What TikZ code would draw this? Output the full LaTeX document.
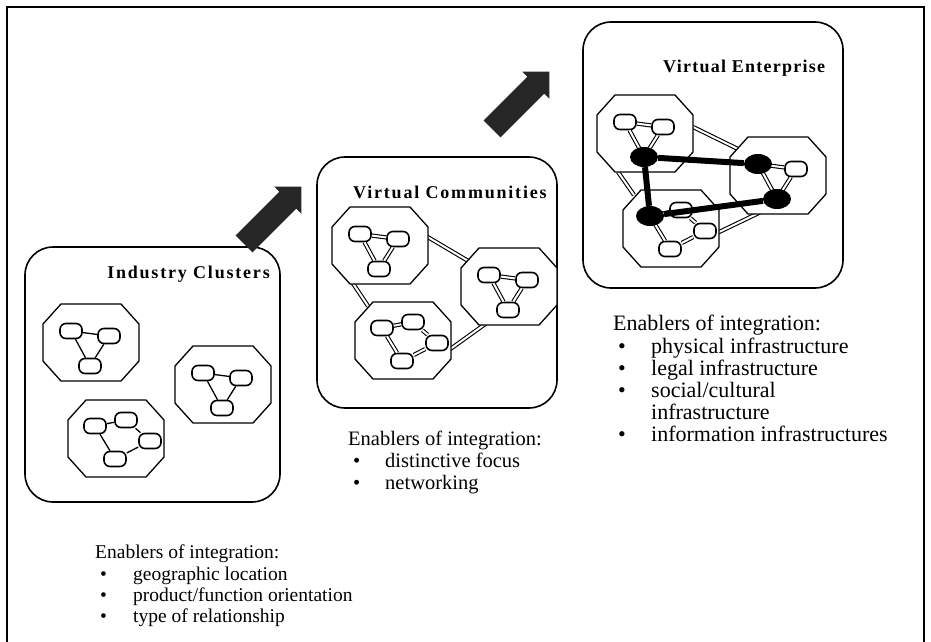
\documentclass[tikz,border=0pt]{standalone}
\usepackage{fontspec}
\setmainfont{Liberation Serif}
\usetikzlibrary{shapes.geometric}
\newcommand{\octshape}{\draw[octo] (18,0) -- (78,0) -- (96,20) -- (96,57) -- (78,77) -- (18,77) -- (0,57) -- (0,20) -- cycle;}
\newcommand{\tricluster}[1]{%
  \octshape
  \node[cn] (n1) at (28,27) {};
  \node[cn] (n2) at (66,32) {};
  \node[cn] (n3) at (47,62) {};
  \draw[#1] (n1) -- (n2) (n1) -- (n3) (n2) -- (n3);}
\newcommand{\quadcluster}[1]{%
  \octshape
  \node[cn] (n1) at (27,26) {};
  \node[cn] (n2) at (58,20) {};
  \node[cn] (n3) at (82,41) {};
  \node[cn] (n4) at (47,59) {};
  \draw[#1] (n1) -- (n2) (n2) -- (n3) (n1) -- (n4) (n4) -- (n3);}
\newcommand{\blockarrow}{\fill[arrowfill] (0,-12) -- (62,-12) -- (62,-19) -- (81,0) -- (62,19) -- (62,12) -- (0,12) -- cycle;}
\begin{document}
\begin{tikzpicture}[x=1pt,y=-1pt,
  frame/.style={line width=1.5pt},
  panel/.style={draw, line width=1.6pt, rounded corners=28pt},
  octo/.style={draw, line width=1.3pt, fill=white},
  cn/.style={draw, line width=1.6pt, fill=white, rounded corners=6pt, minimum width=22pt, minimum height=15pt, inner sep=0pt},
  plink/.style={line width=1.3pt},
  pipe/.style={double, double distance=2pt, line width=1.1pt},
  dot/.style={ellipse, fill=black, minimum width=28pt, minimum height=20pt, inner sep=0pt},
  bond/.style={line width=6pt},
  arrowfill/.style={fill=black!85},
  title/.style={font=\fontsize{18}{20}\selectfont\bfseries\addfontfeature{LetterSpace=10}, inner sep=0pt},
  txta/.style={font=\fontsize{19.5}{22}\selectfont, inner sep=0pt, anchor=base west},
  txtb/.style={font=\fontsize{20.5}{22}\selectfont, inner sep=0pt, anchor=base west},
  txtc/.style={font=\fontsize{22}{22}\selectfont, inner sep=0pt, anchor=base west},
]
\useasboundingbox (0,0) rectangle (931,642);
% outer frame
\draw[frame] (7,642) -- (7,7) -- (924,7) -- (924,642);

% ---------- panel 1 : Industry Clusters
\draw[panel] (25,247) rectangle (280,502);
\node[title, anchor=base east] (t1) at (270,278) {Industry Clusters};
\begin{scope}[shift={(43,304)}, name prefix=A-] \tricluster{plink} \end{scope}
\begin{scope}[shift={(175,346)}, name prefix=B-] \tricluster{plink} \end{scope}
\begin{scope}[shift={(68,400)}, name prefix=C-] \quadcluster{plink} \end{scope}

% ---------- panel 2 : Virtual Communities
\draw[panel] (317,157) rectangle (557,408);
\node[title, anchor=base west] (t2) at (353,198) {Virtual Communities};
\coordinate (o12a) at (426,236); \coordinate (o12b) at (470,262);
\coordinate (o13a) at (352,282); \coordinate (o13b) at (368,306);
\coordinate (o32a) at (449,350); \coordinate (o32b) at (488,322);
\draw[pipe] (o12a) -- (o12b) (o13a) -- (o13b) (o32a) -- (o32b);
\begin{scope}[shift={(332,207)}, name prefix=O1-] \tricluster{pipe} \end{scope}
\begin{scope}[shift={(461,248)}, name prefix=O2-] \tricluster{pipe} \end{scope}
\begin{scope}[shift={(355,302)}, name prefix=O3-] \quadcluster{pipe} \end{scope}

% ---------- panel 3 : Virtual Enterprise
\draw[panel] (583,22) rectangle (843,288);
\node[title, anchor=base west, font=\fontsize{18}{20}\selectfont\bfseries\addfontfeature{LetterSpace=7}] (t3) at (663,73) {Virtual Enterprise};
\coordinate (p12a) at (693,127); \coordinate (p12b) at (740,150);
\coordinate (p13a) at (618,172); \coordinate (p13b) at (634,195);
\coordinate (p32a) at (715,234); \coordinate (p32b) at (765,210);
\draw[pipe] (p12a) -- (p12b) (p13a) -- (p13b) (p32a) -- (p32b);
\begin{scope}[shift={(597,95)}, name prefix=P1-] \tricluster{pipe} \end{scope}
\begin{scope}[shift={(730,137)}, name prefix=P2-] \tricluster{pipe} \end{scope}
\begin{scope}[shift={(623,190)}, name prefix=P3-] \quadcluster{pipe} \end{scope}
\node[dot] (d1) at (P1-n3) {};
\node[dot] (d2) at (P2-n1) {};
\node[dot] (d3) at (P3-n1) {};
\node[dot] (d4) at (P2-n3) {};
\draw[bond] (d1) -- (d2) (d1) -- (d3) (d3) -- (d4);

% ---------- big arrows
\begin{scope}[shift={(244,244)}, rotate=45] \blockarrow \end{scope}
\begin{scope}[shift={(492,129)}, rotate=45] \blockarrow \end{scope}

% ---------- texts panel 1
\node[txta] (e1) at (95,558) {Enablers of integration:};
\node[txta] (b11) at (100,580) {•}; \node[txta] (i11) at (133,580) {geographic location};
\node[txta] (b12) at (100,601) {•}; \node[txta] (i12) at (133,601) {product/function orientation};
\node[txta] (b13) at (100,622) {•}; \node[txta] (i13) at (133,622) {type of relationship};

% ---------- texts panel 2
\node[txtb] (e2) at (348,445) {Enablers of integration:};
\node[txtb] (b21) at (353,467) {•}; \node[txtb] (i21) at (385,467) {distinctive focus};
\node[txtb] (b22) at (353,489) {•}; \node[txtb] (i22) at (385,489) {networking};

% ---------- texts panel 3
\node[txtc] (e3) at (613,330) {Enablers of integration:};
\node[txtc] (b31) at (618,353) {•}; \node[txtc] (i31) at (651,353) {physical infrastructure};
\node[txtc] (b32) at (618,375) {•}; \node[txtc] (i32) at (651,375) {legal infrastructure};
\node[txtc] (b33) at (618,397) {•}; \node[txtc] (i33) at (651,397) {social/cultural};
\node[txtc] (i34) at (651,419) {infrastructure};
\node[txtc] (b35) at (618,441) {•}; \node[txtc] (i35) at (651,441) {information infrastructures};
\end{tikzpicture}
\end{document}
